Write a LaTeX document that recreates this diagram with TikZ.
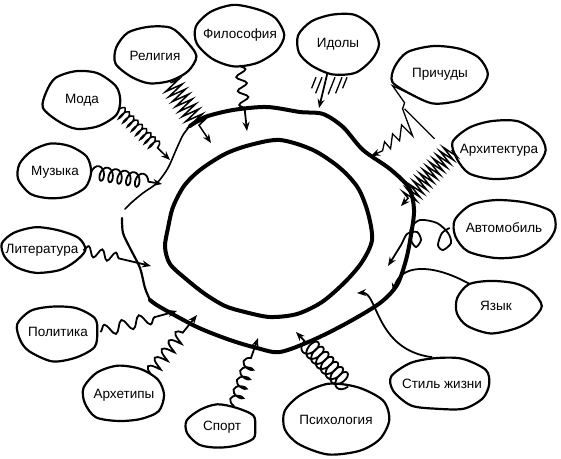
\documentclass[tikz,border=0pt]{standalone}
\usepackage{fontspec}
\setmainfont{Liberation Sans}
\usetikzlibrary{arrows.meta,shapes.geometric,decorations.pathmorphing}

\begin{document}
\begin{tikzpicture}[>={Stealth[length=9pt,width=7pt]},x=1pt,y=-1pt,semithick,font=\fontsize{13.5}{15}\selectfont]
		\tikzstyle{cloud}=[ellipse,inner sep=0pt]
		\tikzstyle{blob}=[line width=2.2pt,line join=round]
		\tikzstyle{ring}=[line width=4pt,line cap=round,line join=round]
		\tikzstyle{link}=[->,line width=1.8pt]
		\pgfmathsetseed{11}
		\useasboundingbox (0,0) rectangle (561,458);

		% the two rings
		\draw[ring] plot[smooth] coordinates {(190,126) (205,117) (233,110) (267,107) (300,112) (323,114)
			(343,127) (363,150) (390,169) (409,188) (414,210) (411,235) (406,260) (397,285) (380,303)
			(347,323) (313,340) (280,352) (257,348) (230,340) (197,327) (160,307) (150,300)};
		\draw[line width=2.2pt,line cap=round] plot[smooth] coordinates {(150,300) (145,288) (140,268)
			(130,248) (123,233) (122,218)};
		\draw[line width=1.6pt,line cap=round] plot[smooth] coordinates {(125,209) (131,203) (143,193)
			(157,183) (168,168) (176,150) (183,135) (190,126)};
		\draw[ring] plot[smooth cycle] coordinates {(200,170) (225,154) (250,145) (280,140) (313,150)
			(340,168) (358,188) (368,213) (372,240) (362,262) (345,282) (322,302) (297,314) (270,317)
			(245,312) (225,306) (205,294) (186,279) (170,264) (165,247) (168,228) (173,207) (184,186)};

		% clouds: name/x/y/width/height/text
		\foreach \n/\x/\y/\w/\h/\t in {filos/240/35/86/60/Философия, idoly/338/44/80/60/Идолы,
			religia/155/56/78/58/Религия, prichudy/440/74/94/56/Причуды, moda/82/100/77/56/Мода,
			arhitektura/499/150/94/60/Архитектура, muzyka/55/172/72/55/Музыка,
			avtomobil/504/228/108/58/Автомобиль, literatura/42/250/82/46/Литература,
			yazyk/496/306/86/54/Язык, politika/58/332/84/55/Политика, stil/442/384/100/54/Стиль жизни,
			arhetipy/124/395/82/56/Архетипы, sport/222/427/70/44/Спорт, psych/336/420/108/68/Психология}
		{
			\node[cloud,minimum width=\w pt,minimum height=\h pt,label=center:\t] (\n) at (\x,\y) {};
			\draw[blob,shift={(\n)}] plot[smooth cycle,samples=11,domain=0:327]
				({\w/2*cos(\x)*(1+0.07*rand)},{\h/2*sin(\x)*(1+0.08*rand)});
		}

		% where the influences hit the ring
		\coordinate (p-filos) at (247,131);
		\coordinate (p-idoly) at (319,108);
		\coordinate (p-relig) at (211,143);
		\coordinate (p-moda) at (170,160);
		\coordinate (p-muz) at (162,184);
		\coordinate (p-lit) at (151,266);
		\coordinate (p-polit) at (177,311);
		\coordinate (p-arhet) at (197,315);
		\coordinate (p-sport) at (258,338);
		\coordinate (p-psych) at (296,332);
		\coordinate (p-stil) at (357,293);
		\coordinate (p-yazyk) at (393,292);
		\coordinate (p-avto) at (388,266);
		\coordinate (p-arhit) at (401,206);
		\coordinate (p-prich) at (371,156);

		% influences
		\draw[link,decorate,decoration={snake,amplitude=5pt,segment length=14pt,post length=20pt}]
			(filos.south) -- (p-filos);
		\draw[link] (idoly.250) -- (p-idoly);
		\foreach \dx/\len in {-22/11,-16/16,-3/17,4/16,9/11}
			\draw[line width=1.3pt] (idoly.south) ++(\dx,3) -- ++(-0.4*\len,\len);
		\draw[link,line width=1.5pt,decorate,decoration={zigzag,amplitude=9pt,segment length=6pt,post length=20pt}]
			(religia.-60) -- (p-relig);
		\draw[link,line width=1.5pt,decorate,decoration={coil,aspect=0.3,amplitude=6pt,segment length=6pt,post length=12pt}]
			(moda.-15) -- (p-moda);
		\draw[link,decorate,decoration={coil,aspect=0.6,amplitude=7pt,segment length=9pt,post length=12pt}]
			(muzyka.east) -- (p-muz);
		\draw[link,decorate,decoration={snake,amplitude=5pt,segment length=14pt,post length=26pt}]
			(literatura.east) -- (p-lit);
		\draw[link,decorate,decoration={snake,amplitude=6pt,segment length=18pt,post length=20pt}]
			(politika.east) -- (p-polit);
		\draw[link,decorate,decoration={coil,aspect=0.2,amplitude=6pt,segment length=11pt,post length=12pt}]
			(arhetipy.40) -- (p-arhet);
		\draw[link,decorate,decoration={coil,aspect=0.5,amplitude=6pt,segment length=10pt,post length=16pt}]
			(sport.60) -- (p-sport);
		\draw[link,decorate,decoration={coil,aspect=0.6,amplitude=9pt,segment length=7pt,post length=12pt}]
			(psych.70) -- (p-psych);
		\draw[link] (stil.110) .. controls (375,350) and (378,292) .. (p-stil);
		\draw[link] (yazyk.140) .. controls (430,262) and (400,265) .. (p-yazyk);
		\draw[link] plot[smooth] coordinates {(avtomobil.west) (442,233) (438,245) (443,250) (451,243)
			(448,233) (437,223) (420,220) (411,228) (411,240) (416,247) (421,240) (417,232) (407,234)
			(401,245) (p-avto)};
		\draw[link,line width=1.5pt,decorate,decoration={zigzag,amplitude=8pt,segment length=5pt,post length=10pt}]
			(arhitektura.west) -- (p-arhit);
		\draw[link,line width=1.3pt] (prichudy.240) -- ++(-32,-15) -- ++(12,17) -- ++(-2,6) -- ++(10,27)
			-- ++(-11,-11) -- ++(-2,16) -- ++(-7,-7) -- ++(-2,15) -- ++(-6,-7) -- ++(-2,9) -- (p-prich);
		\draw[line width=1.3pt] (prichudy.240) ++(-20,8) -- ++(30,30);
	\end{tikzpicture}
\end{document}
